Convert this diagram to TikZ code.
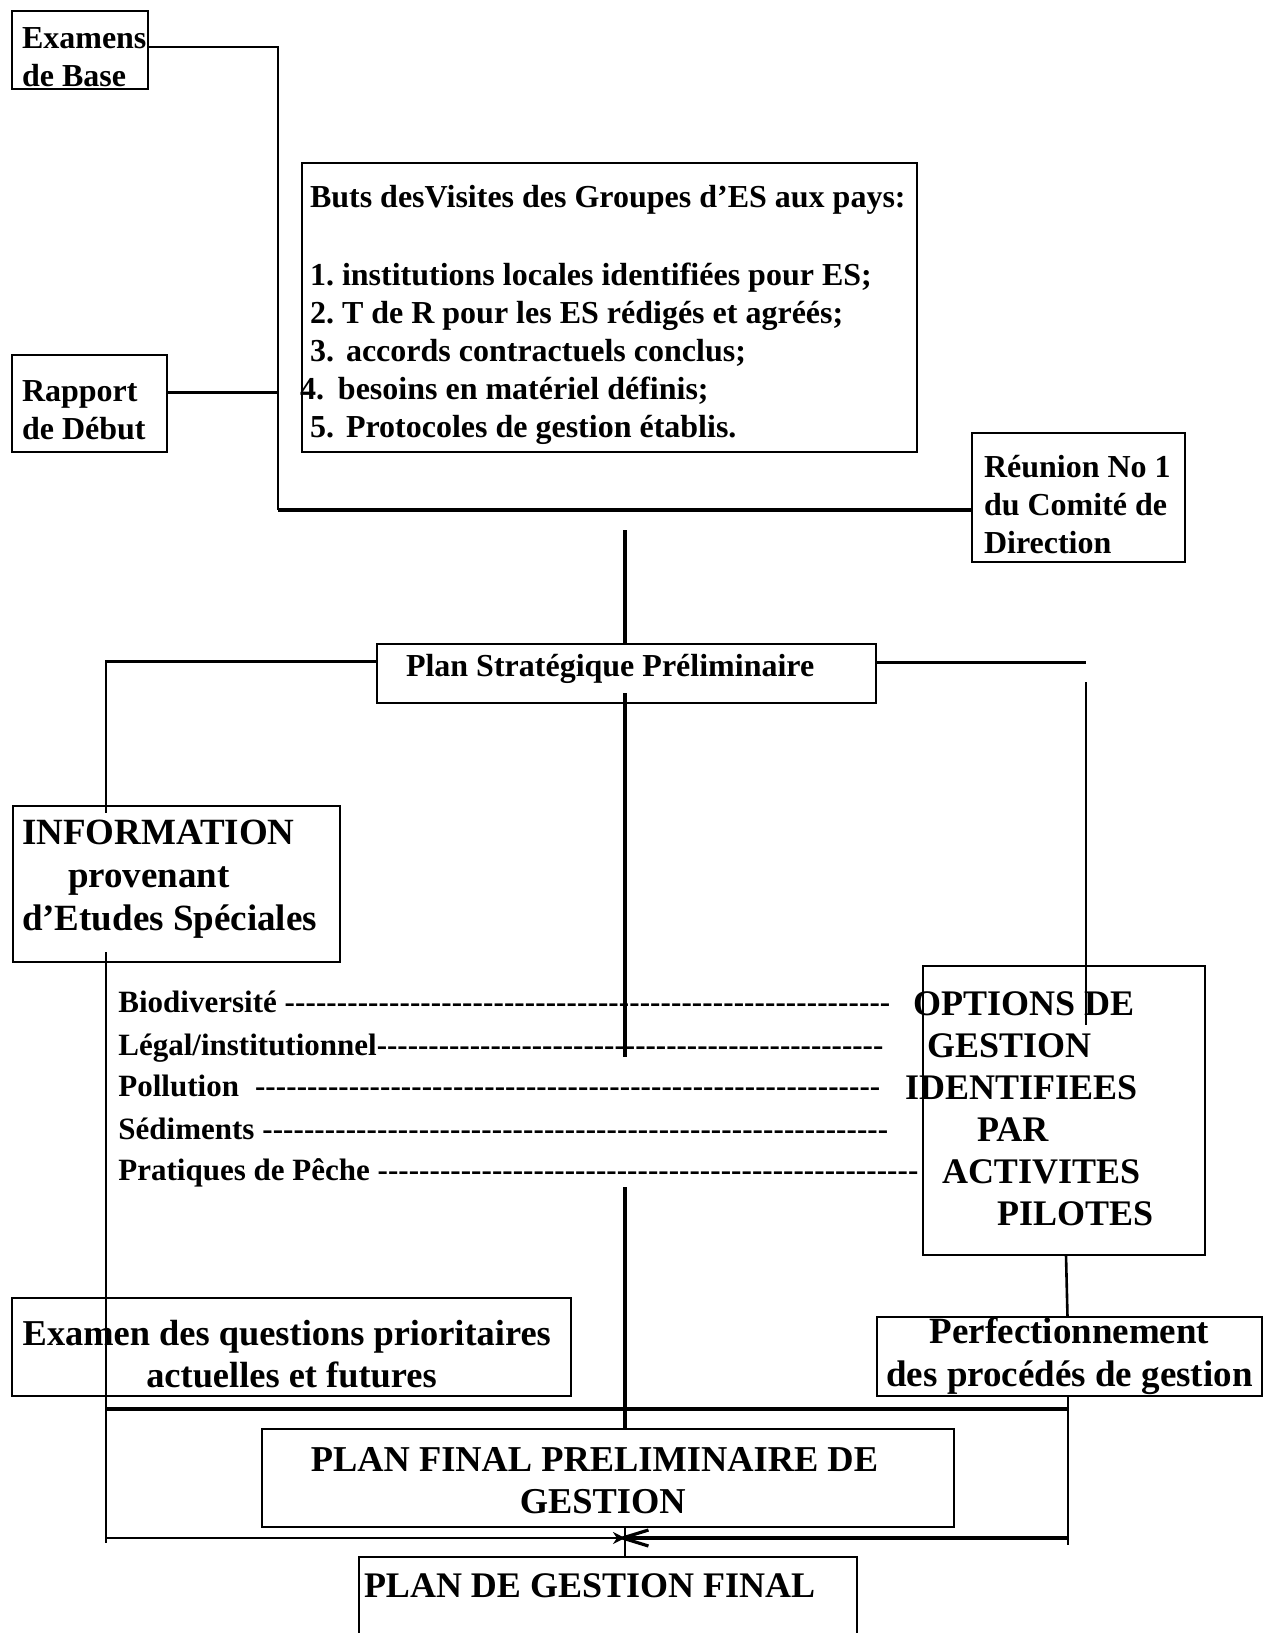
\documentclass[tikz,border=0pt]{standalone}
\usepackage{fontspec}
\setmainfont{Liberation Serif}
\usetikzlibrary{positioning}
\usetikzlibrary{arrows.meta}

\newcommand{\dashrow}[2]{\hbox to #2{#1\xleaders\hbox{-}\hfill}}
\frenchspacing

\begin{document}
\begin{tikzpicture}[x=0.5pt,y=-0.5pt,>={Stealth[length=6pt,width=6pt]},
	box/.style={rectangle,draw,line width=1pt,outer sep=0pt,inner ysep=0pt,
		anchor=north west,align=flush left,font=\bfseries\fontsize{16}{19}\selectfont},
	big/.style={font=\bfseries\fontsize{18}{21}\selectfont},
	row/.style={anchor=base west,inner sep=0pt,font=\bfseries\fontsize{15.5}{18}\selectfont},
	link/.style={line width=1.3pt},
	heavy/.style={line width=2.4pt}]
	
	\useasboundingbox (0,0) rectangle (1264,1633);
	\fill[white] (0,0) rectangle (1264,1633);
	
	% boxes
	\node[box,minimum width=68pt,minimum height=39pt,inner xsep=5pt,text width=58pt]
		(exam) at (12,11) {\rule{0pt}{17.8pt}Examens\\de Base};
	\node[box,minimum width=77.5pt,minimum height=48.5pt,inner xsep=5pt,text width=67.5pt]
		(rapport) at (12,355) {\rule{0pt}{17pt}Rapport\\de Début};
	\node[box,minimum width=307.5pt,minimum height=144.5pt,inner xsep=4pt,text width=299.5pt]
		(buts) at (302,163) {\rule{0pt}{18.3pt}\mbox{Buts desVisites des Groupes d’ES aux pays:}\\[20pt]
		1. institutions locales identifiées pour ES;\\
		2. T de R pour les ES rédigés et agréés;\\
		3.\hspace{6pt}accords contractuels conclus;\\
		\hspace*{-5pt}4.\hspace{7pt}besoins en matériel définis;\\
		5.\hspace{6pt}Protocoles de gestion établis.};
	\node[box,minimum width=106.5pt,minimum height=64.5pt,inner xsep=6pt,text width=94.5pt]
		(reunion) at (972,433) {\rule{0pt}{18.2pt}\mbox{Réunion No 1}\\\mbox{du Comité de}\\Direction};
	\node[box,minimum width=249.5pt,minimum height=29.5pt,inner xsep=14.5pt,text width=220.5pt]
		(planstrat) at (377,644) {Plan Stratégique Préliminaire\rule[-7.7pt]{0pt}{7.7pt}};
	\node[box,big,font=\bfseries\fontsize{18.5}{21.6}\selectfont,minimum width=163.5pt,minimum height=78pt,
		inner xsep=4.5pt,text width=154.5pt]
		(info) at (13,806) {INFORMATION\\\hspace*{23pt}provenant\\d’Etudes Spéciales\rule[-8.8pt]{0pt}{8.8pt}};
	\node[box,big,minimum width=141pt,minimum height=144.5pt,inner xsep=0pt,text width=141pt]
		(options) at (923,966) {\hspace*{-5pt}OPTIONS DE\\\hspace*{2pt}GESTION\\
		\hspace*{-9pt}IDENTIFIEES\\\hspace*{27pt}PAR\\\hspace*{9.5pt}ACTIVITES\\
		\hspace*{37pt}PILOTES\rule[-2pt]{0pt}{2pt}};
	\node[box,big,font=\bfseries\fontsize{18.2}{21}\selectfont,align=flush center,minimum width=279.5pt,
		minimum height=49pt,inner xsep=2pt,text width=275.5pt]
		(examen) at (12,1298) {\rule{0pt}{19.7pt}\hspace*{-4.7pt}Examen des questions prioritaires\\actuelles et futures};
	\node[box,big,font=\bfseries\fontsize{18.5}{21.5}\selectfont,align=flush center,minimum width=192.5pt,
		minimum height=39.5pt,inner xsep=1pt,text width=190.5pt]
		(perfect) at (877,1317) {Perfectionnement\\des procédés de gestion};
	\node[box,big,font=\bfseries\fontsize{18.2}{21}\selectfont,align=flush center,minimum width=346pt,
		minimum height=49pt,inner xsep=5pt,text width=336pt]
		(planfinal) at (262,1429) {\rule{0pt}{14.5pt}\hspace*{-13.5pt}PLAN FINAL PRELIMINAIRE DE\\\hspace*{-5.2pt}GESTION};
	\node[box,big,inner xsep=2.5pt,text width=244pt,text height=20pt,text depth=45pt]
		(final) at (359,1557) {PLAN DE GESTION FINAL};
	
	% rows of the studies
	\node[row] (bio) at (118,1012) {\dashrow{Biodiversité }{386pt}};
	\node[row] (legal) at (118,1055) {\dashrow{Légal/institutionnel}{382.5pt}};
	\node[row] (pollu) at (118,1096) {\dashrow{Pollution\hspace{8pt}}{381pt}};
	\node[row] (sedi) at (118,1139) {\dashrow{Sédiments }{385pt}};
	\node[row] (peche) at (118,1180) {\dashrow{Pratiques de Pêche }{400pt}};
	
	\coordinate (hub) at (278,510);
	\coordinate (ex) at ([yshift=1.5pt]exam.east);
	\coordinate (rp) at ([yshift=5.5pt]rapport.east);
	\coordinate (psw) at ([yshift=6pt]planstrat.west);
	\coordinate (pse) at ([yshift=5.5pt]planstrat.east);
	\coordinate (railA) at (106,813);
	\coordinate (railB) at (106,952);
	\coordinate (railC) at (106,1543);
	\coordinate (optA) at (1086,682);
	\coordinate (optB) at (1086,1025);
	\coordinate (c1) at (625,530);
	\coordinate (c2) at (625,693);
	\coordinate (c3) at (625,1057);
	\coordinate (c4) at (625,1187);
	\coordinate (barL) at (106,1409);
	\coordinate (lowL) at (106,1538);
	\coordinate (lowR) at (1068,1538);
	\coordinate (meet) at (625,1538);
	
	\draw[link] (ex) -| (hub);
	\draw[link] (rp) -- (rp -| hub);
	\draw[heavy] (hub) -- (hub -| reunion.west);
	\draw[heavy] (c1) -- (c1 |- planstrat.north);
	\draw[link] (psw) -| (railA);
	\draw[link] (railB) -- (railC);
	\draw[link] (pse) -- (pse -| optA);
	\draw[link] (optA) -- (optB);
	\draw[heavy] (c2) -- (c3);
	\draw[heavy] (c4) -- (c4 |- planfinal.north);
	\draw[link] ([xshift=1pt]options.south) -- ([xshift=-1pt]perfect.north);
	\draw[link] (lowR |- perfect.south) -- ([yshift=-3.5pt]lowR);
	\draw[heavy] (barL) -- (barL -| lowR);
	\draw[link] (meet |- planfinal.south) -- (meet |- final.north);
	\draw[line width=1pt,->] (lowL) -- (meet);
	\draw[line width=1.6pt,-{Straight Barb[length=13pt,width=8pt]}] (lowR) -- ([xshift=-4pt]meet);
\end{tikzpicture}
\end{document}
